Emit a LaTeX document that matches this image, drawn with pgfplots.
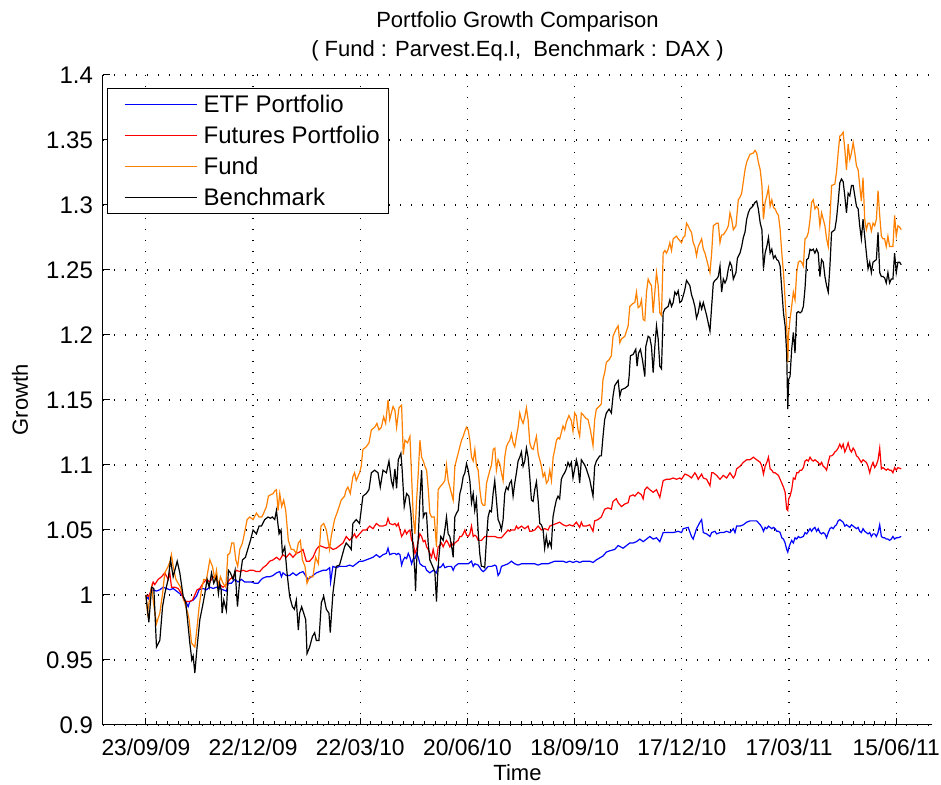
\documentclass[border=0pt]{standalone}
\usepackage{fontspec}
\setmainfont{Liberation Sans}
\usepackage{pgfplots}
\usepackage{pgfplotstable}
\pgfplotsset{compat=1.18}
\usetikzlibrary{calc}
\definecolor{fundorange}{RGB}{255,128,0}

\pgfplotstableread{
t v
0 0.999
2.0 0.997
3.4 1.001
6.1 1.004
8.9 1.003
11.7 1.004
14.5 1.006
17.3 1.005
20.1 1.004
22.9 1.005
25.7 1.003
28.5 1.001
31.3 0.999
33.5 0.995
35.5 0.991
36.9 0.995
39.7 0.996
42.5 0.999
44.7 1.004
48.0 1.005
50.9 1.004
53.7 1.006
56.5 1.005
59.3 1.006
62.0 1.005
64.8 1.004
67.6 1.003
69.0 1.009
71.8 1.009
74.6 1.012
77.4 1.010
80.2 1.012
83.0 1.010
85.8 1.010
88.6 1.010
91.4 1.009
94.2 1.009
97.0 1.012
98.4 1.013
101.2 1.014
104.0 1.014
106.8 1.015
109.6 1.017
112.4 1.018
113.8 1.014
115.1 1.017
117.9 1.015
120.7 1.015
123.5 1.017
126.3 1.015
129.1 1.017
131.9 1.018
134.7 1.014
136.1 1.012
137.5 1.013
140.3 1.015
143.1 1.017
145.9 1.018
148.7 1.019
151.5 1.019
154.3 1.021
155.1 1.010
157.0 1.022
159.8 1.021
162.6 1.022
165.4 1.022
168.2 1.022
171.0 1.023
173.8 1.022
176.6 1.024
179.4 1.026
182.2 1.026
185.0 1.027
187.9 1.028
190.7 1.029
193.5 1.031
196.3 1.029
199.1 1.031
201.9 1.032
203.3 1.036
204.7 1.031
207.5 1.032
209.1 1.032
210.5 1.031
211.9 1.032
213.3 1.031
214.7 1.023
216.1 1.027
217.5 1.029
218.9 1.028
220.3 1.032
221.7 1.029
223.1 1.024
224.5 1.028
225.9 1.028
227.3 1.032
228.7 1.029
230.1 1.024
231.5 1.023
232.9 1.022
234.3 1.022
235.7 1.019
237.1 1.018
238.4 1.017
239.8 1.018
241.2 1.019
242.6 1.018
244.0 1.017
245.4 1.022
246.8 1.021
248.2 1.022
249.6 1.024
251.0 1.021
253.8 1.022
256.6 1.022
258.0 1.019
259.4 1.022
262.2 1.024
265.0 1.024
267.8 1.024
270.6 1.024
273.4 1.026
274.8 1.022
276.2 1.024
279.0 1.023
280.4 1.021
281.8 1.019
283.2 1.018
284.6 1.019
287.4 1.022
290.2 1.022
293.0 1.023
294.3 1.022
295.7 1.015
297.1 1.017
298.5 1.022
301.3 1.023
304.1 1.024
306.9 1.026
309.7 1.024
312.5 1.023
315.3 1.024
320.9 1.024
326.5 1.024
329.3 1.023
332.1 1.024
337.7 1.024
343.3 1.026
347.4 1.026
350.2 1.026
353.0 1.025
355.8 1.026
358.6 1.025
361.4 1.026
364.2 1.025
367.0 1.026
369.8 1.026
372.6 1.026
375.4 1.025
378.2 1.027
383.8 1.030
386.6 1.033
389.4 1.034
393.6 1.035
396.5 1.038
400.7 1.036
406.3 1.040
409.1 1.040
411.9 1.041
414.7 1.043
417.5 1.041
420.3 1.043
423.1 1.045
425.9 1.043
428.7 1.044
431.5 1.041
434.3 1.048
437.1 1.048
442.7 1.048
446.9 1.049
449.7 1.048
451.1 1.051
455.3 1.052
458.1 1.045
459.5 1.043
462.3 1.051
465.2 1.056
466.6 1.058
468.0 1.048
470.8 1.047
473.6 1.045
475.0 1.048
477.8 1.049
479.2 1.047
482.0 1.048
484.8 1.048
487.6 1.049
490.4 1.048
493.2 1.051
494.6 1.048
496.0 1.053
498.8 1.053
501.6 1.054
504.4 1.056
507.2 1.057
510.0 1.057
512.8 1.057
515.8 1.054
517.2 1.052
518.5 1.049
519.9 1.052
521.3 1.051
522.7 1.053
524.1 1.052
525.5 1.051
526.9 1.052
528.3 1.051
529.7 1.049
531.1 1.049
532.5 1.048
533.9 1.044
535.3 1.043
536.7 1.040
538.0 1.035
538.9 1.033
539.7 1.036
540.8 1.039
542.2 1.042
543.6 1.040
545.0 1.044
546.4 1.043
547.8 1.045
549.2 1.044
552.0 1.045
553.4 1.048
554.8 1.047
556.2 1.049
557.6 1.051
558.9 1.049
560.3 1.051
561.7 1.052
563.1 1.049
564.5 1.051
565.9 1.048
567.3 1.047
568.7 1.048
570.1 1.047
571.5 1.044
572.9 1.048
574.3 1.051
575.7 1.052
577.1 1.051
578.4 1.053
579.8 1.054
581.2 1.057
582.6 1.058
584.0 1.057
585.4 1.056
586.8 1.053
588.2 1.054
589.6 1.053
591.0 1.052
592.4 1.054
593.8 1.053
595.2 1.052
596.6 1.051
598.0 1.052
599.3 1.049
600.7 1.048
602.1 1.051
603.5 1.049
604.9 1.048
606.3 1.047
607.7 1.048
609.1 1.045
610.5 1.047
611.9 1.047
613.3 1.045
614.7 1.048
616.1 1.054
617.5 1.045
618.8 1.044
620.2 1.044
621.6 1.043
623.0 1.043
624.4 1.042
625.8 1.043
627.2 1.045
628.6 1.043
630.0 1.044
631.4 1.044
634.2 1.045
}\etf

\pgfplotstableread{
t v
0 1.000
2.0 0.999
3.4 1.001
6.1 1.010
7.5 1.008
10.3 1.012
13.1 1.014
15.9 1.017
18.7 1.012
20.1 1.017
21.5 1.006
24.3 1.006
27.1 1.005
29.9 1.001
31.9 0.996
34.1 0.995
36.9 0.995
39.1 0.996
41.1 1.000
43.0 1.004
45.3 1.005
48.0 1.009
50.9 1.012
53.7 1.010
56.5 1.014
59.3 1.012
62.0 1.008
64.8 1.006
67.6 1.008
70.4 1.012
73.2 1.014
76.0 1.019
78.8 1.018
81.6 1.019
84.4 1.018
87.2 1.019
90.0 1.019
92.8 1.018
95.6 1.018
98.4 1.021
101.2 1.023
104.0 1.026
106.8 1.027
109.6 1.029
112.4 1.027
115.1 1.031
117.9 1.029
120.7 1.032
123.5 1.029
126.3 1.032
129.1 1.033
131.9 1.035
134.7 1.026
137.5 1.026
140.3 1.029
143.1 1.035
145.9 1.038
148.7 1.037
151.5 1.036
154.3 1.037
157.1 1.035
159.9 1.036
162.7 1.038
165.5 1.040
168.2 1.045
171.0 1.042
173.8 1.045
175.2 1.047
176.6 1.044
179.4 1.047
182.2 1.050
185.0 1.050
187.9 1.053
190.7 1.051
193.5 1.055
196.3 1.053
199.1 1.053
201.9 1.054
203.3 1.059
204.7 1.055
207.5 1.054
209.1 1.055
210.5 1.053
211.9 1.055
213.3 1.050
214.7 1.045
216.1 1.047
217.5 1.050
218.9 1.047
220.3 1.049
221.7 1.050
223.1 1.042
224.5 1.040
225.9 1.032
227.3 1.035
228.7 1.042
230.1 1.047
231.5 1.045
232.9 1.041
234.3 1.042
235.7 1.037
237.1 1.035
238.4 1.032
239.8 1.029
241.2 1.035
242.6 1.029
244.0 1.027
245.4 1.037
246.8 1.038
248.2 1.040
249.6 1.037
251.0 1.040
252.4 1.042
253.8 1.040
255.2 1.037
256.6 1.040
258.0 1.038
259.4 1.040
260.8 1.041
262.2 1.042
263.6 1.045
265.0 1.045
266.4 1.047
267.8 1.050
269.2 1.046
270.6 1.045
272.0 1.047
273.4 1.053
274.8 1.045
276.2 1.046
277.6 1.045
279.0 1.042
281.8 1.042
284.6 1.045
287.4 1.045
290.2 1.045
293.0 1.045
295.7 1.044
298.5 1.044
301.3 1.047
304.1 1.050
305.5 1.049
306.9 1.050
309.7 1.050
311.1 1.053
312.5 1.051
315.3 1.053
318.1 1.051
320.9 1.053
322.3 1.049
323.7 1.049
326.5 1.050
329.3 1.053
332.1 1.050
334.9 1.051
337.7 1.050
339.1 1.053
341.9 1.054
344.7 1.055
347.4 1.056
350.2 1.054
353.0 1.053
355.8 1.054
358.6 1.053
361.4 1.056
364.2 1.052
365.6 1.056
367.0 1.053
369.8 1.053
372.6 1.054
375.4 1.049
376.8 1.057
379.6 1.058
382.4 1.060
383.8 1.063
385.2 1.066
388.0 1.067
390.8 1.066
392.2 1.072
395.0 1.074
396.5 1.071
399.3 1.068
402.1 1.070
404.9 1.071
406.3 1.076
409.1 1.077
410.5 1.076
413.3 1.079
416.1 1.077
417.5 1.074
418.9 1.081
420.8 1.083
423.1 1.081
425.9 1.079
428.7 1.081
431.5 1.075
434.3 1.088
437.1 1.089
439.9 1.089
442.7 1.090
445.5 1.089
448.3 1.090
449.7 1.089
452.5 1.093
455.3 1.092
458.1 1.090
460.9 1.094
462.3 1.092
463.7 1.089
466.6 1.093
468.0 1.090
470.8 1.089
473.6 1.084
475.0 1.094
476.4 1.094
479.2 1.092
482.0 1.089
484.8 1.092
487.6 1.090
490.4 1.094
493.2 1.090
494.6 1.092
496.0 1.097
498.8 1.099
501.6 1.102
504.4 1.104
507.2 1.104
510.0 1.106
512.8 1.104
515.8 1.102
517.2 1.099
518.5 1.093
519.9 1.099
521.3 1.102
522.7 1.106
524.1 1.097
525.5 1.096
526.9 1.094
528.3 1.094
529.7 1.093
531.1 1.092
532.5 1.089
533.9 1.086
535.3 1.083
536.7 1.079
538.0 1.066
538.9 1.065
539.7 1.074
540.8 1.076
542.2 1.081
543.6 1.090
545.0 1.089
546.4 1.094
547.8 1.094
549.2 1.096
550.6 1.096
552.0 1.098
553.4 1.103
554.8 1.104
556.2 1.103
557.6 1.106
558.9 1.104
560.3 1.103
561.7 1.104
563.1 1.103
564.5 1.102
565.9 1.100
567.3 1.102
568.7 1.099
570.1 1.098
571.5 1.096
572.9 1.102
574.3 1.107
575.7 1.107
577.1 1.108
578.4 1.110
579.8 1.111
581.2 1.113
582.6 1.116
584.0 1.113
585.4 1.116
586.8 1.110
588.2 1.113
589.6 1.117
591.0 1.112
592.4 1.110
593.8 1.113
595.2 1.111
596.6 1.107
598.0 1.106
599.3 1.104
600.7 1.102
602.1 1.104
603.5 1.103
604.9 1.102
606.3 1.099
607.7 1.094
609.1 1.099
610.5 1.102
611.9 1.098
613.3 1.100
614.7 1.104
616.1 1.113
617.5 1.097
618.8 1.098
620.2 1.097
621.6 1.096
623.0 1.097
624.4 1.096
625.8 1.096
627.2 1.094
628.6 1.098
630.0 1.096
631.4 1.098
634.2 1.097
}\futures

\pgfplotstableread{
t v
0 1.000
1.4 0.986
3.4 0.999
4.8 1.006
6.1 0.996
8.9 0.978
11.7 0.986
14.0 1.001
15.9 1.017
18.7 1.022
20.7 1.027
21.5 1.031
22.9 1.022
25.2 1.012
27.1 1.009
29.1 1.006
31.3 0.999
33.5 0.991
35.2 0.986
36.3 0.981
38.3 0.963
41.1 0.960
42.5 0.971
44.7 0.991
46.7 1.004
48.6 1.012
50.9 1.012
53.7 1.027
55.9 1.022
57.9 1.012
59.3 1.019
60.9 1.006
62.6 1.014
64.8 1.009
67.1 1.006
68.8 1.031
70.4 1.032
72.1 1.040
73.8 1.040
75.5 1.027
77.1 1.022
78.8 1.035
81.1 1.040
83.3 1.050
85.0 1.058
87.2 1.060
90.0 1.058
92.8 1.063
95.0 1.060
97.3 1.060
98.9 1.063
101.2 1.068
102.9 1.076
104.5 1.077
106.8 1.078
108.2 1.080
109.6 1.081
111.0 1.065
112.4 1.078
114.0 1.068
115.7 1.073
117.4 1.065
119.6 1.042
122.1 1.035
124.1 1.035
126.3 1.032
128.0 1.040
129.7 1.042
131.4 1.027
133.6 1.022
135.3 1.009
137.5 1.014
140.3 1.014
142.5 1.029
144.8 1.024
147.0 1.053
149.3 1.055
151.5 1.050
154.2 1.035
155.6 1.045
158.4 1.058
161.2 1.065
164.0 1.073
166.8 1.076
168.2 1.081
169.6 1.083
171.6 1.078
173.8 1.091
175.2 1.094
176.6 1.088
179.4 1.094
180.8 1.099
182.2 1.112
185.0 1.114
187.3 1.117
189.3 1.127
192.1 1.129
194.0 1.132
195.7 1.127
197.7 1.129
199.6 1.137
201.3 1.132
203.3 1.150
204.7 1.135
207.5 1.145
209.1 1.142
210.5 1.129
212.5 1.144
214.7 1.146
216.1 1.108
217.5 1.119
219.7 1.117
221.7 1.122
223.1 1.091
224.5 1.060
225.9 1.047
227.3 1.073
228.7 1.094
230.1 1.119
231.5 1.106
232.9 1.103
234.3 1.099
235.7 1.096
237.1 1.081
238.4 1.063
239.8 1.060
242.1 1.060
244.0 1.037
245.4 1.081
246.8 1.083
249.6 1.086
251.0 1.088
252.4 1.100
253.8 1.088
255.2 1.083
256.6 1.078
258.0 1.073
259.4 1.099
260.8 1.104
262.2 1.109
263.6 1.114
265.0 1.119
266.4 1.122
267.8 1.126
269.2 1.129
270.6 1.127
272.0 1.119
273.4 1.106
274.8 1.103
276.2 1.112
277.6 1.099
279.0 1.096
280.4 1.081
281.8 1.071
283.2 1.069
284.6 1.069
286.0 1.086
287.4 1.091
288.8 1.096
290.2 1.100
291.6 1.112
293.0 1.113
294.3 1.096
295.7 1.104
297.1 1.101
298.5 1.094
299.9 1.088
301.3 1.106
302.7 1.114
304.1 1.117
305.5 1.119
306.9 1.124
308.3 1.117
309.7 1.114
311.1 1.122
312.5 1.129
313.9 1.140
315.3 1.135
316.7 1.132
318.1 1.137
319.5 1.144
320.9 1.135
322.3 1.117
323.7 1.113
325.1 1.112
326.5 1.117
327.9 1.122
329.3 1.109
330.7 1.104
332.1 1.099
333.5 1.091
334.9 1.094
336.3 1.086
337.7 1.088
339.1 1.096
340.5 1.088
341.9 1.106
343.3 1.112
344.7 1.119
346.1 1.121
347.4 1.120
348.8 1.125
350.2 1.130
351.6 1.127
353.0 1.133
355.2 1.138
357.2 1.134
358.6 1.126
360.0 1.140
361.4 1.138
362.8 1.127
364.2 1.122
365.6 1.140
367.6 1.138
369.3 1.136
371.2 1.135
373.2 1.127
375.4 1.115
376.8 1.135
378.2 1.143
380.5 1.145
382.4 1.147
383.8 1.166
385.2 1.171
386.6 1.179
388.9 1.181
390.8 1.184
392.2 1.199
394.5 1.204
396.5 1.207
397.9 1.194
399.3 1.197
402.1 1.199
404.9 1.207
406.3 1.222
408.5 1.224
410.5 1.225
411.9 1.233
413.3 1.221
414.7 1.222
416.1 1.227
417.5 1.212
418.9 1.211
420.3 1.233
421.7 1.243
423.1 1.240
424.5 1.238
425.9 1.217
427.3 1.233
428.7 1.248
430.1 1.238
431.5 1.217
432.9 1.215
434.3 1.263
435.7 1.265
437.1 1.263
438.5 1.266
439.9 1.271
441.3 1.265
442.7 1.274
444.1 1.275
445.5 1.276
446.9 1.274
449.7 1.271
451.1 1.275
452.5 1.276
453.9 1.286
455.3 1.284
456.7 1.281
458.1 1.279
459.5 1.271
460.9 1.268
462.3 1.261
463.7 1.268
465.2 1.271
466.6 1.274
468.0 1.266
469.4 1.263
470.8 1.258
473.6 1.248
475.0 1.263
476.4 1.284
477.8 1.285
479.2 1.286
480.6 1.286
482.0 1.271
483.4 1.277
484.8 1.277
486.2 1.279
487.6 1.281
489.0 1.284
490.4 1.294
491.8 1.289
493.2 1.281
495.4 1.284
497.4 1.304
498.8 1.306
500.2 1.309
501.6 1.318
503.0 1.327
504.4 1.333
505.8 1.336
507.2 1.339
510.0 1.340
511.4 1.342
512.8 1.340
514.2 1.333
515.8 1.327
517.2 1.315
518.5 1.289
519.9 1.302
521.3 1.307
522.7 1.313
524.1 1.299
525.5 1.304
526.9 1.298
528.3 1.297
529.7 1.294
531.1 1.292
532.5 1.281
533.9 1.263
535.3 1.248
536.7 1.227
538.0 1.207
538.9 1.179
539.7 1.202
540.8 1.212
542.2 1.222
543.6 1.233
545.0 1.227
546.4 1.248
547.8 1.256
549.2 1.257
550.6 1.256
552.0 1.253
553.4 1.274
554.8 1.275
556.2 1.279
557.6 1.289
558.9 1.302
560.3 1.304
561.7 1.297
563.1 1.299
564.5 1.297
565.9 1.284
567.3 1.294
568.7 1.289
570.1 1.284
571.5 1.274
572.9 1.268
574.3 1.289
575.7 1.315
578.4 1.316
579.8 1.325
581.2 1.340
582.6 1.353
584.0 1.354
585.4 1.356
586.8 1.343
588.2 1.327
589.6 1.347
591.0 1.335
592.4 1.340
593.8 1.348
595.2 1.340
596.6 1.330
598.0 1.327
599.3 1.315
600.7 1.303
602.1 1.321
603.5 1.289
604.9 1.281
606.3 1.286
607.7 1.286
609.1 1.280
610.5 1.286
611.9 1.284
613.3 1.289
614.7 1.311
616.1 1.292
617.5 1.276
618.8 1.274
620.2 1.274
621.6 1.268
623.0 1.276
624.4 1.268
625.8 1.268
627.2 1.268
628.6 1.292
630.0 1.276
631.4 1.284
632.8 1.283
634.2 1.281
}\fund

\pgfplotstableread{
t v
0 1.000
2.5 0.979
4.8 1.006
6.7 1.005
8.9 0.960
11.7 0.965
14.0 0.991
15.9 1.001
18.7 1.012
20.7 1.027
22.9 1.014
26.3 1.026
28.5 1.017
31.3 0.999
33.5 0.994
35.5 0.976
36.9 0.963
38.6 0.950
39.7 0.953
41.1 0.940
43.0 0.960
45.3 0.981
47.5 0.991
49.5 1.001
51.4 1.012
53.1 1.006
55.1 1.017
57.0 1.009
59.3 1.014
60.9 1.001
62.0 1.009
63.2 1.004
64.0 0.986
65.4 0.996
67.6 0.988
69.3 1.019
71.0 1.017
73.2 1.012
74.9 1.019
76.9 0.991
78.8 1.012
81.1 1.027
83.6 1.029
85.5 1.035
87.8 1.042
90.0 1.050
92.8 1.047
95.0 1.053
97.0 1.053
99.8 1.058
102.6 1.060
104.5 1.059
106.2 1.060
108.2 1.058
109.6 1.065
111.8 1.047
113.5 1.050
114.6 1.032
116.6 1.037
118.5 1.017
120.7 0.999
123.0 0.991
124.7 0.989
126.3 0.996
128.0 0.973
129.1 0.986
130.8 0.991
132.5 0.986
134.2 0.981
135.3 0.955
137.5 0.960
139.8 0.968
141.7 0.971
143.1 0.965
145.3 0.965
147.3 0.994
149.3 0.999
151.5 0.989
153.7 0.986
154.8 0.971
157.0 1.001
159.8 1.022
162.6 1.023
166.8 1.037
168.2 1.040
171.0 1.037
172.4 1.035
173.8 1.055
176.6 1.058
179.4 1.055
182.2 1.076
185.0 1.078
187.3 1.081
189.3 1.094
192.1 1.096
194.9 1.094
196.8 1.083
199.1 1.096
201.9 1.094
204.1 1.103
206.1 1.088
207.5 1.083
209.1 1.097
210.5 1.082
211.9 1.104
214.1 1.109
215.2 1.096
216.9 1.068
218.9 1.078
220.8 1.076
222.5 1.063
224.4 1.035
225.8 1.018
226.4 1.003
227.2 1.024
228.6 1.042
230.0 1.073
231.5 1.096
232.9 1.060
234.2 1.063
235.6 1.063
237.0 1.040
238.4 1.027
239.8 1.024
241.2 1.021
242.6 1.018
244.0 0.995
244.9 1.014
246.0 1.029
247.6 1.045
249.6 1.042
251.0 1.050
252.4 1.060
253.8 1.047
255.2 1.045
257.1 1.035
258.0 1.029
259.4 1.060
260.8 1.063
262.2 1.065
263.6 1.078
265.0 1.083
266.4 1.091
267.8 1.094
269.2 1.101
270.6 1.096
272.0 1.088
273.4 1.071
274.8 1.078
276.1 1.065
277.5 1.073
278.9 1.050
280.3 1.032
281.7 1.022
283.1 1.022
284.5 1.021
285.9 1.042
287.3 1.060
288.7 1.065
290.1 1.064
291.5 1.078
292.9 1.088
294.3 1.073
295.7 1.058
297.1 1.055
298.5 1.050
299.9 1.058
301.3 1.078
302.7 1.083
304.1 1.081
305.5 1.086
306.9 1.088
308.3 1.076
309.7 1.086
311.1 1.094
312.5 1.103
313.9 1.106
315.3 1.110
316.7 1.099
318.1 1.103
319.5 1.113
320.9 1.106
322.3 1.091
323.7 1.073
325.1 1.072
326.5 1.081
327.9 1.087
329.3 1.073
330.7 1.055
332.1 1.054
333.5 1.050
334.8 1.036
336.2 1.045
337.6 1.037
339.0 1.041
340.4 1.037
341.8 1.060
343.2 1.067
344.6 1.073
346.0 1.076
347.4 1.074
348.8 1.089
350.2 1.092
351.6 1.094
353.0 1.097
354.4 1.102
355.8 1.099
357.2 1.102
358.6 1.090
360.0 1.097
361.4 1.104
362.8 1.099
364.2 1.086
365.6 1.104
367.0 1.102
368.4 1.100
369.8 1.097
372.6 1.089
375.4 1.076
376.8 1.099
378.2 1.103
381.0 1.107
382.4 1.107
383.8 1.122
385.2 1.135
386.6 1.140
388.9 1.143
390.8 1.140
392.2 1.153
393.6 1.161
395.0 1.163
396.5 1.165
397.9 1.153
399.3 1.158
402.1 1.159
404.9 1.161
405.7 1.168
406.8 1.184
409.1 1.185
411.3 1.189
412.4 1.176
413.6 1.186
415.2 1.189
416.9 1.181
418.9 1.168
419.7 1.191
421.7 1.199
423.1 1.198
424.5 1.191
425.9 1.171
427.3 1.191
428.7 1.207
430.1 1.197
431.5 1.176
432.9 1.174
434.3 1.217
435.7 1.220
437.1 1.221
438.5 1.222
439.9 1.227
441.3 1.222
442.7 1.225
444.1 1.233
445.5 1.231
446.9 1.234
448.3 1.225
449.7 1.226
451.1 1.230
452.5 1.235
453.9 1.242
455.3 1.240
456.7 1.238
458.1 1.231
459.5 1.227
460.9 1.222
462.3 1.213
463.7 1.217
465.2 1.225
466.6 1.220
468.0 1.225
469.4 1.220
470.8 1.215
473.6 1.203
475.0 1.222
476.4 1.240
477.8 1.242
479.2 1.243
480.6 1.245
482.0 1.253
483.4 1.233
484.8 1.243
486.2 1.240
487.6 1.243
489.0 1.251
490.4 1.256
491.8 1.253
493.2 1.243
495.4 1.248
496.6 1.259
498.8 1.263
500.2 1.268
501.6 1.275
503.0 1.279
504.4 1.289
505.8 1.294
507.2 1.297
509.5 1.299
511.4 1.302
512.8 1.303
514.2 1.297
515.8 1.286
517.2 1.281
518.5 1.251
519.9 1.263
521.3 1.268
522.7 1.275
524.1 1.263
525.5 1.266
526.9 1.259
528.3 1.261
529.7 1.258
531.1 1.257
532.5 1.253
533.9 1.235
535.3 1.217
536.7 1.207
538.0 1.186
538.9 1.143
539.7 1.166
540.8 1.168
542.2 1.189
543.6 1.202
545.0 1.186
546.4 1.217
547.8 1.218
549.2 1.217
550.6 1.218
552.0 1.222
553.4 1.236
554.8 1.258
556.2 1.259
557.6 1.266
558.9 1.265
560.3 1.266
561.7 1.263
563.1 1.266
564.5 1.263
565.9 1.245
567.3 1.258
568.7 1.256
570.1 1.245
571.5 1.238
572.9 1.233
574.3 1.253
575.7 1.279
578.4 1.281
579.8 1.289
581.2 1.302
582.6 1.317
584.0 1.320
585.4 1.318
586.8 1.307
588.2 1.294
589.6 1.309
591.0 1.307
592.4 1.315
593.8 1.315
595.2 1.307
596.6 1.299
598.0 1.297
599.3 1.284
600.7 1.274
602.1 1.289
603.5 1.276
604.9 1.263
606.3 1.251
607.7 1.256
609.1 1.248
610.5 1.256
611.9 1.257
613.3 1.258
614.7 1.279
616.1 1.248
617.5 1.245
618.8 1.245
620.2 1.244
621.6 1.240
623.0 1.248
624.4 1.240
625.8 1.243
627.2 1.243
628.6 1.263
630.0 1.248
631.4 1.256
632.8 1.256
634.2 1.254
}\bench

\begin{document}
\begin{tikzpicture}[font=\fontsize{11}{14.5}\selectfont]
\begin{axis}[
  width=414.5pt, height=325pt, scale only axis,
  xmin=-36, xmax=660, ymin=0.9, ymax=1.4,
  axis x line*=bottom, axis y line*=left,
  axis line style={-, black, line width=0.5pt},
  xtick={0,90,180,270,360,450,540,630},
  xticklabels={23/09/09,22/12/09,22/03/10,20/06/10,18/09/10,17/12/10,17/03/11,15/06/11},
  ytick={0.9,0.95,1,1.05,1.1,1.15,1.2,1.25,1.3,1.35,1.4},
  yticklabels={0.9,0.95,1,1.05,1.1,1.15,1.2,1.25,1.3,1.35,1.4},
  minor x tick num=9,
  tick align=inside,
  major tick length=3.5pt, minor tick length=1.8pt,
  every tick/.style={black, line width=0.5pt},
  grid=major,
  major grid style={black, line width=0.6pt, dash pattern=on 0.6pt off 4.9pt},
  xticklabel style={anchor=center, yshift=-11pt, font=\fontsize{11.4}{14}\selectfont},
  yticklabel style={xshift=-1.5pt, font=\fontsize{12}{14}\selectfont},
  xlabel={Time},
  xlabel style={at={(axis description cs:0.5,-0.0738)}, anchor=center},
  ylabel={Growth},
  ylabel style={at={(axis description cs:-0.1,0.5)}, anchor=center},
  title={Portfolio Growth Comparison\\( Fund : Parvest.Eq.I,\ \ Benchmark : DAX )},
  title style={align=center, at={(axis description cs:0.5,1.0415)}, anchor=center},
  legend style={at={(axis description cs:0.0048,0.98)}, anchor=north west,
    draw=black, line width=0.5pt, fill=white, inner xsep=2.75pt, inner ysep=0.25pt,
    font=\fontsize{12}{14.5}\selectfont,
    nodes={inner sep=1.75pt, text height=9.8pt, text depth=2.2pt},
    /tikz/column sep=1.5pt,
    row sep=0pt},
  legend cell align=left,
  legend image code/.code={\fill[white] (0pt,-0.1pt) rectangle (0.1pt,0.1pt); \draw[#1, line width=0.6pt] (5.5pt,0pt) -- (41.5pt,0pt);},
]
\addplot[blue, line width=0.6pt] table[x=t, y=v] {\etf};
\addlegendentry{ETF Portfolio}
\addplot[red, line width=0.6pt] table[x=t, y=v] {\futures};
\addlegendentry{Futures Portfolio}
\addplot[fundorange, line width=0.6pt] table[x=t, y=v] {\fund};
\addlegendentry{Fund}
\addplot[black, line width=0.6pt] table[x=t, y=v] {\bench};
\addlegendentry{Benchmark}
\end{axis}
\pgfresetboundingbox
\path[use as bounding box] ($(current axis.south west)+(-51.5pt,-30pt)$) rectangle ($(current axis.north east)+(4.5pt,37.5pt)$);
\end{tikzpicture}
\end{document}
